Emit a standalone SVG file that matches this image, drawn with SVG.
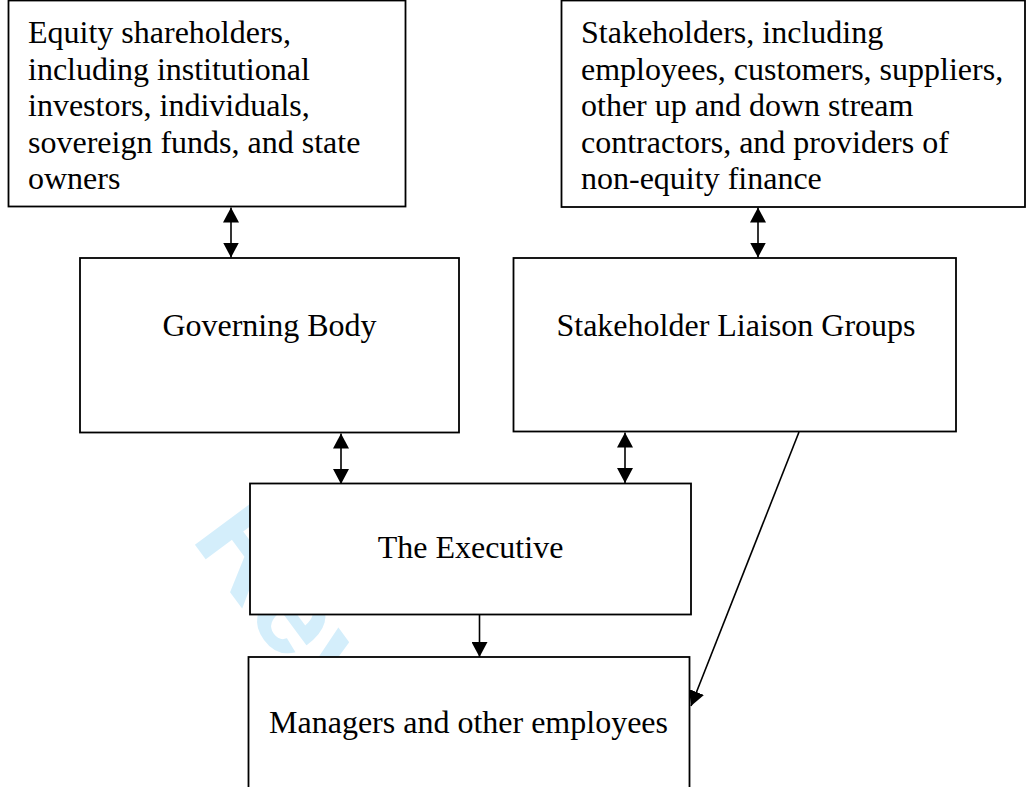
<svg xmlns="http://www.w3.org/2000/svg" width="1032" height="787" viewBox="0 0 1032 787">
  <style>
    .box { fill: #ffffff; stroke: #000000; stroke-width: 1.8; }
    .lbl { font-family: "Liberation Serif", "Times New Roman", serif; font-size: 32px; fill: #000000; }
    .mid { text-anchor: middle; }
    .conn { stroke: #000000; stroke-width: 1.6; fill: none; }
    .wm { font-family: "Liberation Sans", Arial, sans-serif; font-weight: bold; font-size: 125px; fill: #d4eefb; }
  </style>
  <defs>
    <marker id="ah" viewBox="0 0 15 16" refX="15" refY="8" markerWidth="15" markerHeight="16" markerUnits="userSpaceOnUse" orient="auto-start-reverse">
      <path d="M0,0 L15,8 L0,16 z" fill="#000000"/>
    </marker>
  </defs>

  <rect width="1032" height="787" fill="#ffffff"/>

  <g id="watermark">
    <text class="wm" transform="translate(190,538) rotate(53.5)">Review</text>
  </g>

  <g id="equity">
    <rect class="box" x="8.5" y="0.5" width="397" height="206"/>
    <text class="lbl" x="28">
      <tspan x="28" y="43">Equity shareholders,</tspan>
      <tspan x="28" y="79.5">including institutional</tspan>
      <tspan x="28" y="116">investors, individuals,</tspan>
      <tspan x="28" y="152.5">sovereign funds, and state</tspan>
      <tspan x="28" y="189">owners</tspan>
    </text>
  </g>

  <g id="stakeholders">
    <rect class="box" x="561.5" y="0.5" width="463.5" height="206.5"/>
    <text class="lbl">
      <tspan x="581" y="43">Stakeholders, including</tspan>
      <tspan x="581" y="79.5">employees, customers, suppliers,</tspan>
      <tspan x="581" y="116">other up and down stream</tspan>
      <tspan x="581" y="152.5">contractors, and providers of</tspan>
      <tspan x="581" y="189">non-equity finance</tspan>
    </text>
  </g>

  <g id="governing">
    <rect class="box" x="80" y="258" width="379" height="174.5"/>
    <text class="lbl mid" x="269.5" y="336">Governing Body</text>
  </g>

  <g id="liaison">
    <rect class="box" x="513.5" y="258" width="442.5" height="173.5"/>
    <text class="lbl mid" x="736" y="336">Stakeholder Liaison Groups</text>
  </g>

  <g id="executive">
    <rect class="box" x="250" y="483.5" width="441" height="131"/>
    <text class="lbl mid" x="470.5" y="558">The Executive</text>
  </g>

  <g id="managers">
    <rect class="box" x="248.5" y="657" width="441" height="140"/>
    <text class="lbl mid" x="468.5" y="733">Managers and other employees</text>
  </g>

  <g id="connectors">
    <line class="conn" x1="231" y1="207.5" x2="231" y2="257.5" marker-start="url(#ah)" marker-end="url(#ah)"/>
    <line class="conn" x1="758" y1="207.5" x2="758" y2="257.5" marker-start="url(#ah)" marker-end="url(#ah)"/>
    <line class="conn" x1="341" y1="433.5" x2="341" y2="484" marker-start="url(#ah)" marker-end="url(#ah)"/>
    <line class="conn" x1="625" y1="432.5" x2="625" y2="483" marker-start="url(#ah)" marker-end="url(#ah)"/>
    <line class="conn" x1="479.5" y1="614.5" x2="479.5" y2="657" marker-end="url(#ah)"/>
    <line class="conn" x1="799" y1="432" x2="691" y2="706" marker-end="url(#ah)"/>
  </g>
</svg>
